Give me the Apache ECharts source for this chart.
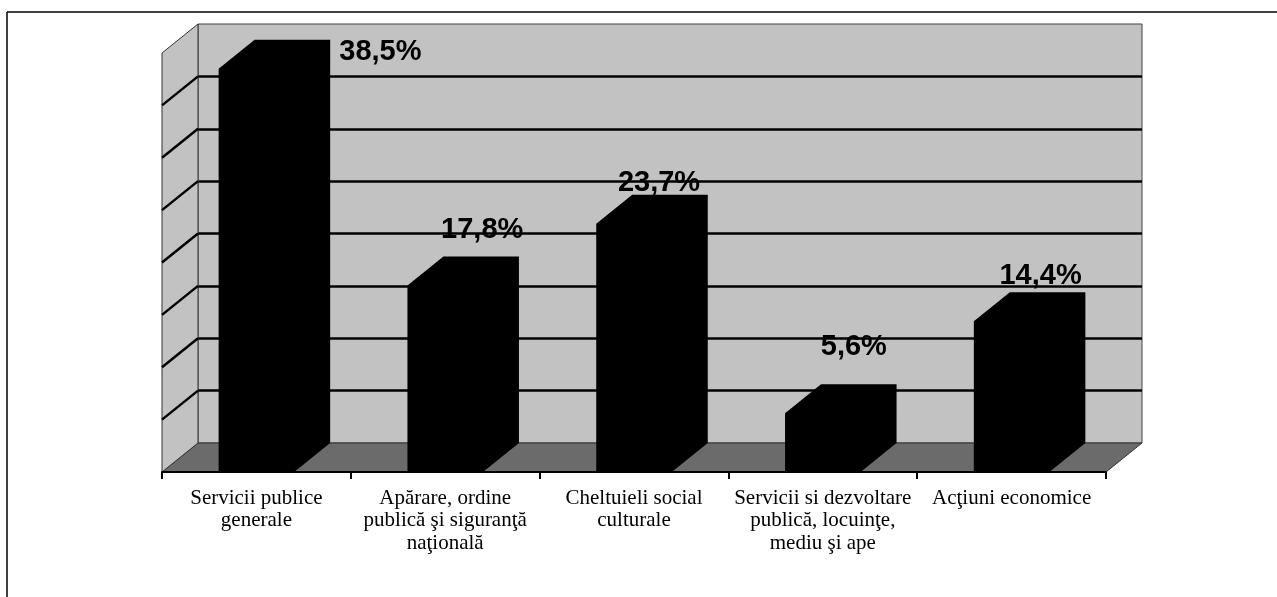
<!DOCTYPE html>
<html>
<head>
<meta charset="utf-8">
<script src="https://cdn.jsdelivr.net/npm/echarts@6/dist/echarts.min.js"></script>
<style>
  html, body { margin: 0; padding: 0; background: #fff; }
  #chart { width: 1277px; height: 597px; }
</style>
</head>
<body>
<div id="chart"></div>
<script>
// date
var categories = [
    'Servicii publice\ngenerale',
    'Apărare, ordine\npublică şi siguranţă\nnaţională',
    'Cheltuieli social\nculturale',
    'Servicii si dezvoltare\npublică, locuinţe,\nmediu şi ape',
    'Acţiuni economice'
];
var values = [38.5, 17.8, 23.7, 5.6, 14.4];
var valueLabels = ['38,5%', '17,8%', '23,7%', '5,6%', '14,4%'];

// axa valorilor (fara etichete)
var yMax = 40;
var yStep = 5;

// aspect 3D
var DX = 36, DY = 29;
var BAR_RATIO = 0.4;
// deplasarea etichetelor fata de mijlocul muchiei din spate
var labelShift = [[88, 12], [1, -27], [-11, -12], [-5, -37], [-7, -16]];

var chart = echarts.init(document.getElementById('chart'));

function renderWalls(params, api) {
    var c0 = api.coord([0, 0]);
    var cw = api.size([1, 0])[0];
    var left = c0[0] - cw / 2;
    var right = left + cw * categories.length;
    var y0 = c0[1];
    var yTop = api.coord([0, yMax])[1];
    var children = [];
    // podeaua
    children.push({
        type: 'polygon',
        shape: { points: [[left, y0], [right, y0], [right + DX, y0 - DY], [left + DX, y0 - DY]] },
        style: { fill: '#6b6b6b', stroke: '#333', lineWidth: 1 }
    });
    // peretele lateral
    children.push({
        type: 'polygon',
        shape: { points: [[left, y0], [left, yTop], [left + DX, yTop - DY], [left + DX, y0 - DY]] },
        style: { fill: '#c2c2c2', stroke: '#333', lineWidth: 1 }
    });
    for (var v = yStep; v < yMax; v += yStep) {
        var y = api.coord([0, v])[1];
        children.push({
            type: 'line',
            shape: { x1: left, y1: y, x2: left + DX, y2: y - DY },
            style: { stroke: '#000', lineWidth: 2.5 }
        });
    }
    return { type: 'group', children: children };
}

function renderBar(params, api) {
    var i = params.dataIndex;
    var base = api.coord([api.value(0), 0]);
    var top = api.coord([api.value(0), api.value(1)]);
    var w = api.size([1, 0])[0] * BAR_RATIO;
    var x0 = base[0] - w / 2, x1 = base[0] + w / 2;
    var y0 = base[1], y1 = top[1];
    return {
        type: 'group',
        children: [{
            type: 'polygon',
            shape: { points: [[x0, y0], [x0, y1], [x0 + DX, y1 - DY], [x1 + DX, y1 - DY], [x1 + DX, y0 - DY], [x1, y0]] },
            style: { fill: '#000' }
        }, {
            type: 'text',
            z2: 10,
            style: {
                text: valueLabels[i],
                x: base[0] + DX + labelShift[i][0],
                y: y1 - DY + labelShift[i][1],
                align: 'center',
                verticalAlign: 'middle',
                fontFamily: 'Liberation Sans',
                fontWeight: 'bold',
                fontSize: 29,
                fill: '#000'
            }
        }]
    };
}

var option = {
    animation: false,
    backgroundColor: '#fff',
    graphic: [
        { type: 'line', shape: { x1: 7, y1: 12, x2: 1277, y2: 12 }, style: { stroke: '#000', lineWidth: 1.5 } },
        { type: 'line', shape: { x1: 7, y1: 12, x2: 7, y2: 597 }, style: { stroke: '#000', lineWidth: 1.5 } }
    ],
    grid: [
        { left: 162, top: 53, width: 944, height: 419 },
        { left: 198, top: 24, width: 944, height: 419, show: true, backgroundColor: '#c2c2c2', borderColor: '#444', borderWidth: 1 }
    ],
    xAxis: [{
        type: 'category',
        gridIndex: 0,
        data: categories,
        axisLine: { lineStyle: { color: '#000', width: 2 } },
        axisTick: { show: true, length: 7, lineStyle: { color: '#000', width: 2 } },
        axisLabel: {
            interval: 0,
            margin: 15,
            color: '#000',
            fontFamily: 'Liberation Serif',
            fontSize: 21,
            lineHeight: 22.5
        },
        z: 5
    }, {
        type: 'category',
        gridIndex: 1,
        data: categories,
        show: false
    }],
    yAxis: [{
        type: 'value',
        gridIndex: 0,
        min: 0,
        max: yMax,
        interval: yStep,
        show: false
    }, {
        type: 'value',
        gridIndex: 1,
        min: 0,
        max: yMax,
        interval: yStep,
        axisLabel: { show: false },
        axisLine: { show: false },
        axisTick: { show: false },
        splitLine: { show: true, showMinLine: false, showMaxLine: false, lineStyle: { color: '#000', width: 2.5 } }
    }],
    series: [{
        type: 'custom',
        xAxisIndex: 0,
        yAxisIndex: 0,
        clip: false,
        z: 1,
        silent: true,
        renderItem: renderWalls,
        data: [[0, 0]]
    }, {
        type: 'custom',
        xAxisIndex: 0,
        yAxisIndex: 0,
        clip: false,
        z: 3,
        renderItem: renderBar,
        data: values.map(function (v, i) { return [i, v]; })
    }]
};

chart.setOption(option);
</script>
</body>
</html>
